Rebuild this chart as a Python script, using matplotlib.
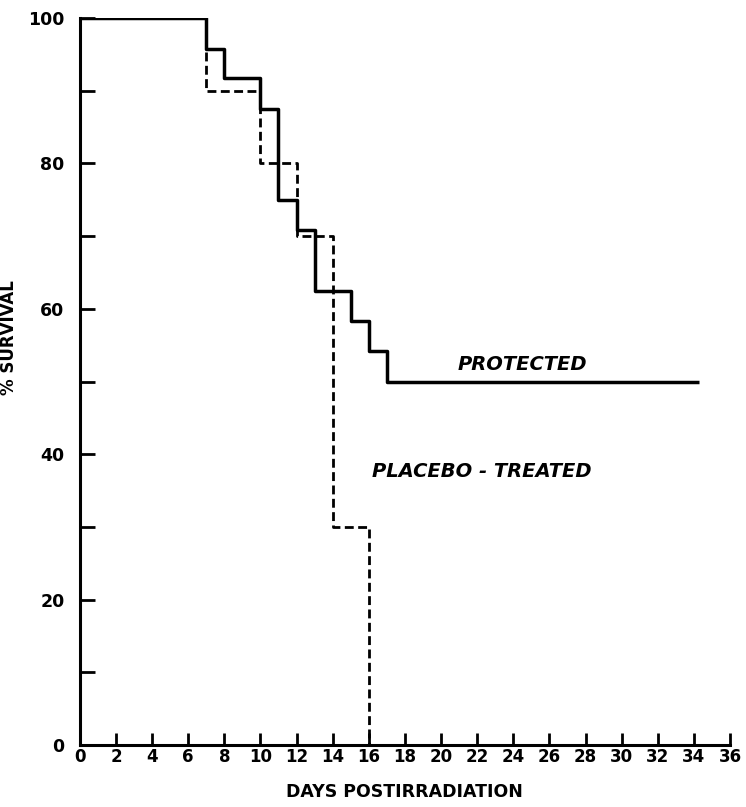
import numpy as np
import matplotlib
matplotlib.use("Agg")
import matplotlib.pyplot as plt

# survival data
protected_days = [0, 7, 8, 10, 11, 12, 13, 15, 16, 17, 34.3]
protected_surv = [100, 95.8, 91.7, 87.5, 75, 70.8, 62.5, 58.3, 54.2, 50, 50]

placebo_days = [0, 7, 10, 12, 14, 16]
placebo_surv = [100, 90, 80, 70, 30, 0]

x_ticks = list(range(0, 37, 2))
y_ticks = [0, 20, 40, 60, 80, 100]
y_minor = [10, 30, 50, 70, 90]

plt.rcParams['font.family'] = ['DejaVu Sans']
plt.rcParams['font.weight'] = 'bold'

fig = plt.figure(figsize=(7.46, 8.07), dpi=100)
ax = fig.add_axes([0.107, 0.0768, 0.8716, 0.9009])

ax.step(protected_days, protected_surv, where='post', color='black', lw=2.5,
        solid_capstyle='butt')
ax.step(placebo_days, placebo_surv, where='post', color='black', lw=2.0,
        linestyle=(0, (3.2, 1.6)))

ax.set_xlim(0, 36)
ax.set_ylim(0, 100)

for s in ['top', 'right']:
    ax.spines[s].set_visible(False)
for s in ['left', 'bottom']:
    ax.spines[s].set_linewidth(2.2)

ax.set_xticks(x_ticks)
ax.set_xticklabels([str(t) for t in x_ticks], fontsize=12, fontweight='bold')
ax.set_yticks(y_ticks)
ax.set_yticklabels([str(t) for t in y_ticks], fontsize=12.5, fontweight='bold')
ax.set_yticks(y_minor, minor=True)
ax.tick_params(axis='x', direction='in', length=9, width=2, pad=2)
ax.tick_params(axis='y', which='both', direction='in', length=11, width=2, pad=11)

ax.set_xlabel('DAYS POSTIRRADIATION', fontsize=12.5, fontweight='bold')
ax.xaxis.set_label_coords(0.5, -0.052)
ax.set_ylabel('% SURVIVAL', fontsize=12, fontweight='bold')
ax.yaxis.set_label_coords(-0.095, 0.56)

ax.text(20.9, 52.4, 'PROTECTED', fontsize=14, fontweight='bold', style='italic',
        va='center', ha='left')
ax.text(16.2, 37.6, 'PLACEBO - TREATED', fontsize=14, fontweight='bold',
        style='italic', va='center', ha='left')

fig.savefig('out.png', dpi=100)
